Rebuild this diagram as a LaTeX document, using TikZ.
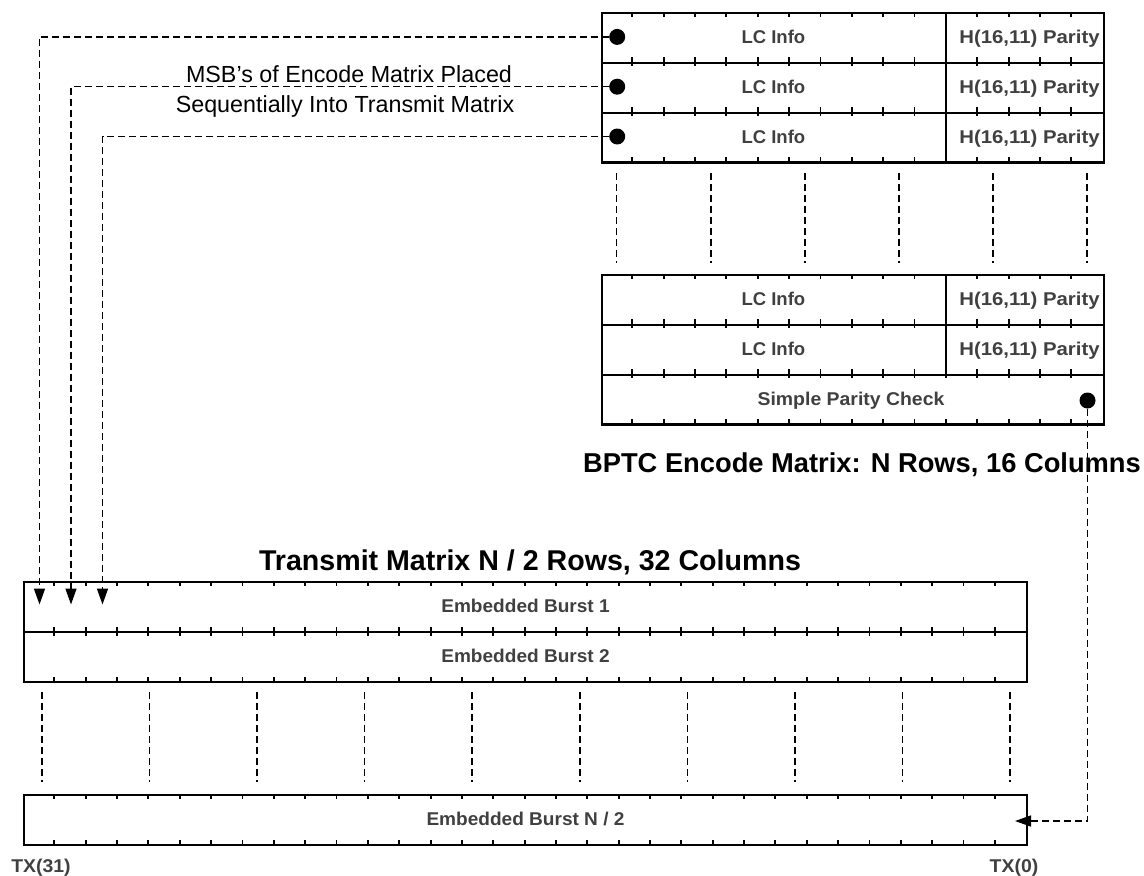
\documentclass[tikz,border=0pt]{standalone}
\usepackage{fontspec}
\setmainfont{Liberation Sans}
\usetikzlibrary{arrows.meta}
\definecolor{txt}{HTML}{404040}
\begin{document}
\begin{tikzpicture}[x=1pt,y=-1pt,
  cellbox/.style={draw, line width=2.2pt, inner sep=0pt, anchor=north west, minimum height=49.8pt},
  tickline/.style={line width=1.9pt},
  divline/.style={line width=2.2pt},
  dsh/.style={line width=1.5pt, dash pattern=on 7pt off 4pt},
  lbl/.style={font=\fontsize{18.5}{18.5}\selectfont\bfseries, text=txt, inner sep=0pt, text height=13.2pt, text depth=0pt},
  ttl/.style={font=\bfseries, inner sep=0pt, text height=20pt, text depth=0pt},
  note/.style={font=\fontsize{23.3}{23.3}\selectfont, inner sep=0pt, text height=16.8pt, text depth=0pt},
  dot/.style={circle, fill=black, inner sep=0pt, minimum size=16pt},
  arr/.style={-{Triangle[length=16pt,width=11pt]}}
]
\useasboundingbox (0,0) rectangle (1144,876);

% ---------- BPTC encode matrix rows ----------
\node[cellbox, minimum width=501.6pt] (e1) at (601,12) {};
\node[cellbox, minimum width=501.6pt] (e2) at (601,61.8) {};
\node[cellbox, minimum width=501.6pt] (e3) at (601,111.6) {};
\node[cellbox, minimum width=501.6pt] (e4) at (601,274) {};
\node[cellbox, minimum width=501.6pt] (e5) at (601,323.8) {};
\node[cellbox, minimum width=501.6pt] (e6) at (601,373.6) {};

\foreach \t in {12,61.8,111.6,274,323.8,373.6}{
  \foreach \i in {1,...,15}{
    \draw[tickline] (601+\i*31.35,\t) -- ++(0,4.5);
    \draw[tickline] (601+\i*31.35,\t+49.8) -- ++(0,-4.5);
  }
}
\foreach \t in {12,61.8,111.6,274,323.8}{
  \draw[divline] (945.85,\t) -- ++(0,49.8);
}

\node[lbl] (l1) at (773.4,36.9) {LC Info};
\node[lbl] (l2) at (773.4,86.7) {LC Info};
\node[lbl] (l3) at (773.4,136.5) {LC Info};
\node[lbl] (l4) at (773.4,298.9) {LC Info};
\node[lbl] (l5) at (773.4,348.7) {LC Info};
\node[lbl] (p1) at (1029.5,36.9) {\scalebox{1.1}[1]{H(16,11) Parity}};
\node[lbl] (p2) at (1029.5,86.7) {\scalebox{1.1}[1]{H(16,11) Parity}};
\node[lbl] (p3) at (1029.5,136.5) {\scalebox{1.1}[1]{H(16,11) Parity}};
\node[lbl] (p4) at (1029.5,298.9) {\scalebox{1.1}[1]{H(16,11) Parity}};
\node[lbl] (p5) at (1029.5,348.7) {\scalebox{1.1}[1]{H(16,11) Parity}};
\node[lbl] (spc) at (851,398.5) {\scalebox{1.05}[1]{Simple Parity Check}};

% dashed continuation lines (encode)
\foreach \k in {0,...,5}{
  \draw[dsh] (616.7+\k*94.05,173) -- ++(0,90);
}

% ---------- Transmit matrix rows ----------
\node[cellbox, minimum width=1003.2pt, minimum height=50pt] (t1) at (23,581) {};
\node[cellbox, minimum width=1003.2pt, minimum height=50pt] (t2) at (23,631) {};
\node[cellbox, minimum width=1003.2pt, minimum height=50pt] (t3) at (23,794) {};
\foreach \t in {581,631,794}{
  \foreach \i in {1,...,31}{
    \draw[tickline] (23+\i*31.35,\t) -- ++(0,4.5);
    \draw[tickline] (23+\i*31.35,\t+50) -- ++(0,-4.5);
  }
}
\node[lbl] (b1) at (525.5,606) {\scalebox{1.03}[1]{Embedded Burst 1}};
\node[lbl] (b2) at (525.5,656) {\scalebox{1.03}[1]{Embedded Burst 2}};
\node[lbl] (b3) at (525.5,819) {\scalebox{1.03}[1]{Embedded Burst N / 2}};

\foreach \k in {0,...,9}{
  \draw[dsh] (42+\k*107.55,692) -- ++(0,90);
}

% ---------- titles and notes ----------
\node[ttl, font=\fontsize{27.3}{27.3}\selectfont\bfseries] (enctitle) at (862,462) {BPTC Encode Matrix: N Rows, 16 Columns};
\node[ttl, font=\fontsize{28.6}{28.6}\selectfont\bfseries] (txtitle) at (530,560) {Transmit Matrix N / 2 Rows, 32 Columns};
\node[note] (n1) at (349,74.3) {MSB’s of Encode Matrix Placed};
\node[note] (n2) at (345,103.7) {Sequentially Into Transmit Matrix};
\node[lbl] (tx31) at (41,865.5) {\scalebox{1.05}[1]{TX(31)}};
\node[lbl] (tx0) at (1014,865.5) {\scalebox{1.05}[1]{TX(0)}};

% ---------- dots and connectors ----------
\node[dot] (d1) at (617.2,36.9) {};
\node[dot] (d2) at (617.2,86.7) {};
\node[dot] (d3) at (617.2,136.5) {};
\node[dot] (d4) at (1087.5,400.5) {};

\coordinate (a1) at (39.5,604.5);
\coordinate (a2) at (71,604.5);
\coordinate (a3) at (102.5,604.5);
\coordinate (a4) at (1015,821);

\draw[dsh,arr] (d1.west) -| (a1);
\draw[dsh,arr] (d2.west) -| (a2);
\draw[dsh,arr] (d3.west) -| (a3);
\draw[dsh,arr] (d4.south) |- (a4);
\end{tikzpicture}
\end{document}
